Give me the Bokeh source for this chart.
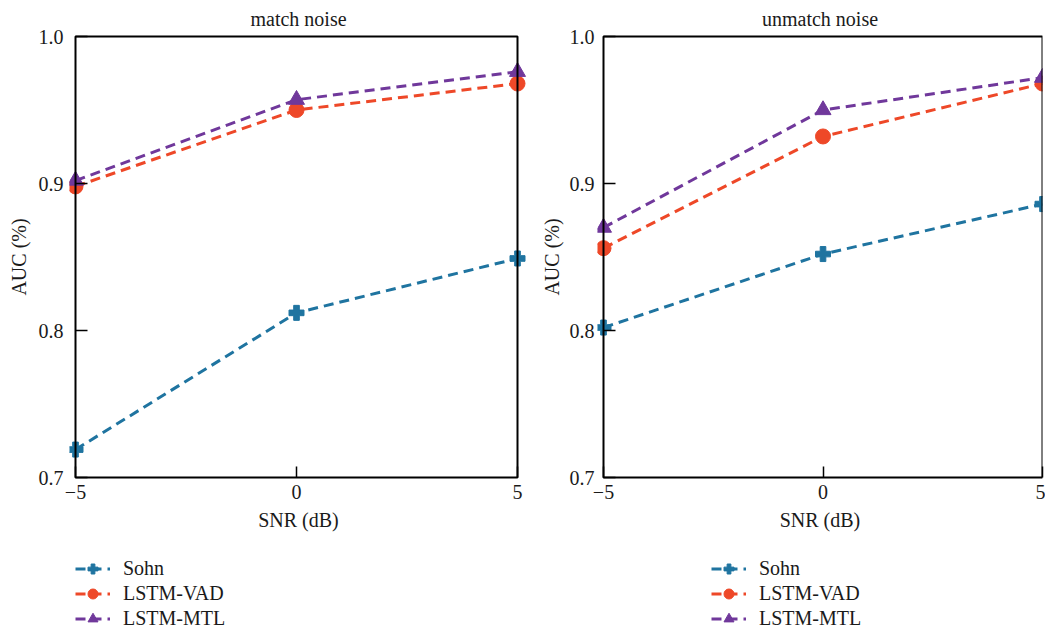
from bokeh.plotting import figure
from bokeh.layouts import row, column
from bokeh.models import Range1d, FixedTicker, Legend, LegendItem, BoxAnnotation, NumeralTickFormatter
from bokeh.embed import file_html
from bokeh.resources import INLINE

# ---- data ----
snr = [-5, 0, 5]
methods = ["Sohn", "LSTM-VAD", "LSTM-MTL"]
titles = ["match noise", "unmatch noise"]
match_sohn = [0.719, 0.812, 0.849]
match_vad = [0.898, 0.950, 0.968]
match_mtl = [0.902, 0.957, 0.976]
unmatch_sohn = [0.802, 0.852, 0.886]
unmatch_vad = [0.856, 0.932, 0.968]
unmatch_mtl = [0.870, 0.950, 0.972]
x_ticks = [-5, 0, 5]
y_ticks = [0.7, 0.8, 0.9, 1.0]

FONT = "Liberation Serif"
FS = "20px"
TXT = "#1a1a1a"
colors = ["#1F74A0", "#EE4828", "#70389B"]
markers = ["plus", "circle", "triangle"]
msizes = [15, 15, 16]
DASH = "10 6"
LW = 3

TOP = 34
YPAD = 2
BOX_H = 441
BOTTOM = 71
LEG_H = 79
PAD_L = 6


def make_panel(title, series, box_w, pad_r, border_l, border_r, lab_standoff, ax_standoff):
    ppu = box_w / 10.0
    frame_w = box_w + PAD_L + pad_r
    ypu = BOX_H / 0.3
    p = figure(
        frame_width=frame_w, frame_height=BOX_H + 2 * YPAD,
        x_range=Range1d(-5 - PAD_L / ppu, 5 + pad_r / ppu),
        y_range=Range1d(0.7 - YPAD / ypu, 1.0 + YPAD / ypu),
        output_backend="svg", toolbar_location=None,
        min_border_left=border_l, min_border_right=border_r,
        min_border_top=TOP, min_border_bottom=BOTTOM,
    )
    p.title.text = title
    p.title.align = "center"
    p.title.text_font = FONT
    p.title.text_font_size = FS
    p.title.text_font_style = "normal"
    p.title.text_color = TXT
    p.title.standoff = 9
    p.outline_line_color = None
    p.grid.visible = False

    box = BoxAnnotation(left=-5, right=5, bottom=0.7, top=1.0,
                        fill_alpha=0, line_color="black", line_alpha=1.0, line_width=2)
    p.add_layout(box)

    p.xaxis.ticker = FixedTicker(ticks=x_ticks)
    p.yaxis.ticker = FixedTicker(ticks=y_ticks)
    p.yaxis.formatter = NumeralTickFormatter(format="0.0")
    for ax in (p.xaxis[0], p.yaxis[0]):
        ax.axis_line_color = None
        ax.minor_tick_line_color = None
        ax.major_tick_line_color = "black"
        ax.major_tick_line_width = 1.5
        ax.major_label_text_font = FONT
        ax.major_label_text_font_size = FS
        ax.major_label_text_color = TXT
        ax.axis_label_text_font = FONT
        ax.axis_label_text_font_size = FS
        ax.axis_label_text_font_style = "normal"
        ax.axis_label_text_color = TXT
    p.xaxis.axis_label = "SNR (dB)"
    p.yaxis.axis_label = "AUC (%)"
    p.xaxis.major_tick_out = -YPAD
    p.xaxis.major_tick_in = YPAD + 11
    p.xaxis.major_label_standoff = 5
    p.xaxis.axis_label_standoff = 7
    p.yaxis.major_tick_out = -PAD_L
    p.yaxis.major_tick_in = PAD_L + 12
    p.yaxis.major_label_standoff = lab_standoff
    p.yaxis.axis_label_standoff = ax_standoff

    for ys, c, m, s in zip(series, colors, markers, msizes):
        p.line(snr, ys, line_color=c, line_width=LW, line_dash=DASH)
        p.scatter(snr, ys, marker=m, size=s, fill_color=c, line_color=c)

    # legend strip below the panel (its ranges keep the proxy marks out of view)
    lf = figure(frame_width=frame_w, frame_height=LEG_H, title=None,
                x_range=Range1d(100, 101), y_range=Range1d(100, 101),
                x_axis_type=None, y_axis_type=None,
                output_backend="svg", toolbar_location=None,
                min_border_left=border_l, min_border_right=border_r,
                min_border_top=0, min_border_bottom=0)
    lf.outline_line_color = None
    lf.grid.visible = False
    items = []
    for name, ys, c, m in zip(methods, series, colors, markers):
        ln = lf.line(snr, ys, line_color=c, line_width=LW, line_dash=DASH)
        sc = lf.scatter(snr, ys, marker=m, fill_color=c, line_color=c)
        items.append(LegendItem(label=name, renderers=[ln, sc]))
    legend = Legend(items=items, orientation="vertical", location="top_left")
    legend.margin = PAD_L
    legend.padding = 0
    legend.border_line_color = None
    legend.background_fill_alpha = 0
    legend.label_text_font = FONT
    legend.label_text_font_size = FS
    legend.label_text_color = TXT
    legend.glyph_width = 35
    legend.glyph_height = 25
    legend.label_height = 25
    legend.label_standoff = 13
    legend.spacing = 0
    lf.add_layout(legend)
    return column(p, lf)


c1 = make_panel(titles[0], [match_sohn, match_vad, match_mtl], 442, 10, 69, 10, 6, 6)
c2 = make_panel(titles[1], [unmatch_sohn, unmatch_vad, unmatch_mtl], 439, 0, 56, 3, 3, 4)

layout = row(c1, c2)
open("out.html", "w").write(file_html(layout, INLINE))
